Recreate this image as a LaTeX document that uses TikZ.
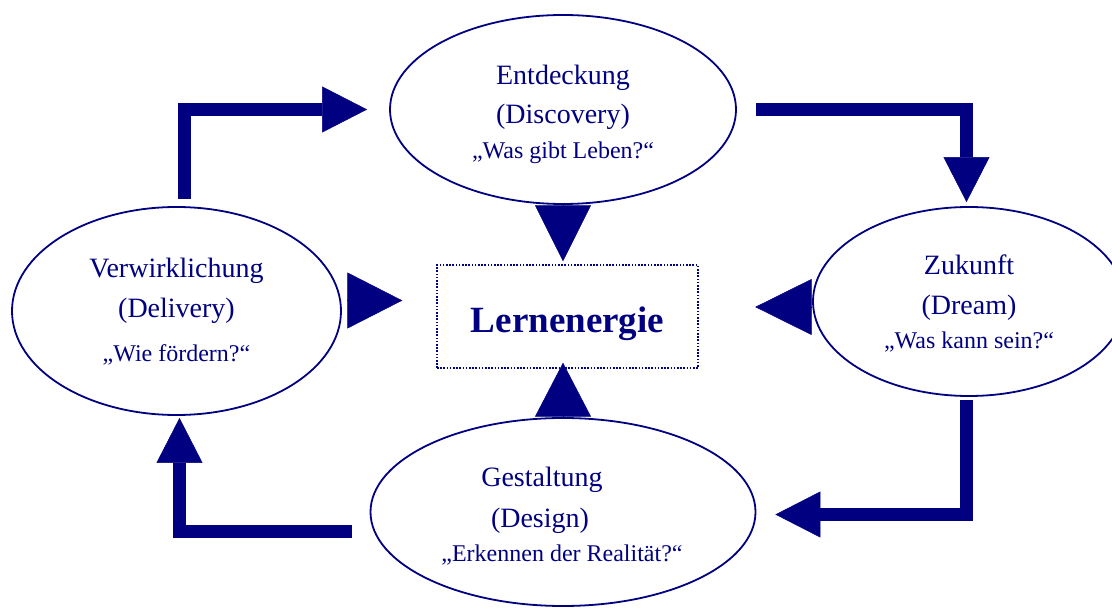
\documentclass[tikz,border=0pt]{standalone}
\usepackage{fontspec}
\setmainfont{Liberation Serif}
\usepackage{xcolor}
\definecolor{CycleNavy}{HTML}{000080}
\usepackage{tikz}
\usetikzlibrary{shapes.geometric,arrows.meta,positioning,calc}

\newcommand{\askline}[1]{{\fontsize{24}{39}\selectfont #1}}

\begin{document}
\begin{tikzpicture}[
  x=1pt, y=1pt,
  phase/.style={ellipse, draw=CycleNavy, line width=1.8pt, inner sep=0pt},
  phasetext/.style={align=center, text=CycleNavy, font=\fontsize{28}{39}\selectfont},
  core/.style={draw=CycleNavy, line width=1.4pt, dash pattern=on 1.6pt off 1.6pt,
               minimum width=261pt, minimum height=103pt, inner sep=0pt,
               text=CycleNavy, font=\fontsize{37}{40}\selectfont\bfseries,
               text height=40pt, text depth=7pt},
  flow/.style={draw=CycleNavy, line width=13pt, line join=miter,
               -{Triangle[length=45pt, width=46pt, line width=0.5pt]}},
  pointer/.style={draw=CycleNavy, line width=0.5pt,
               -{Triangle[length=#1, width=56pt, line width=0.5pt]}},
]
\useasboundingbox (0,0) rectangle (1112,608);
\clip (0,0) rectangle (1112,608);

% the four phases
\node[phase, minimum width=346pt, minimum height=189pt] (dis) at (563,498.5) {};
\node[phase, minimum width=329pt, minimum height=208pt] (del) at (176.5,297) {};
\node[phase, minimum width=312pt, minimum height=189pt] (drm) at (969,306.5) {};
\node[phase, minimum width=385pt, minimum height=188pt] (des) at (563,96) {};

\node[phasetext, yshift=-4.5pt] (dis-t) at (dis)
  {Entdeckung\\(Discovery)\\[-4pt]\askline{„Was gibt Leben?“}};
\node[phasetext, yshift=-0.9pt] (del-t) at (del)
  {Verwirklichung\\[1pt](Delivery)\\[5pt]\askline{„Wie fördern?“}};
\node[phasetext, yshift=-2.4pt] (drm-t) at (drm)
  {Zukunft\\[1pt](Dream)\\[-5pt]\askline{„Was kann sein?“}};
\node[phasetext, xshift=-1pt, yshift=-4.4pt] (des-t) at (des)
  {Gestaltung\rule{40pt}{0pt}\\[2pt]{(Design)\rule{44pt}{0pt}}\\[-5pt]\askline{„Erkennen der Realität?“}};

\node[core] (core) at (567.5,291.5) {Lernenergie};

% cycle
\draw[flow] ([xshift=8pt,yshift=7pt]del.north) |- ([xshift=-22pt]dis.west);
\draw[flow] ([xshift=19pt]dis.east) -| ([xshift=-2.5pt,yshift=4pt]drm.north);
\draw[flow] ([xshift=-2.5pt,yshift=-3pt]drm.south) |- ([xshift=19pt,yshift=-2.5pt]des.east);
\draw[flow] ([xshift=-18pt,yshift=-19.5pt]des.west) -| ([xshift=3pt,yshift=-2pt]del.south);

% towards the centre
\draw[pointer=56pt] ([yshift=-2pt]dis.south) -- ($(dis.south |- core.north)+(0,3)$);
\draw[pointer=54pt] ([yshift=2pt]des.north) -- ($(des.north |- core.south)+(0,6)$);
\draw[pointer=55pt, shorten >=34pt] ([xshift=7pt,yshift=10.5pt]del.east) -- ([yshift=16pt]core.west);
\draw[pointer=56.5pt, shorten >=56.5pt] ([xshift=-1pt,yshift=-5.5pt]drm.west) -- ([yshift=9.5pt]core.east);
\end{tikzpicture}
\end{document}
